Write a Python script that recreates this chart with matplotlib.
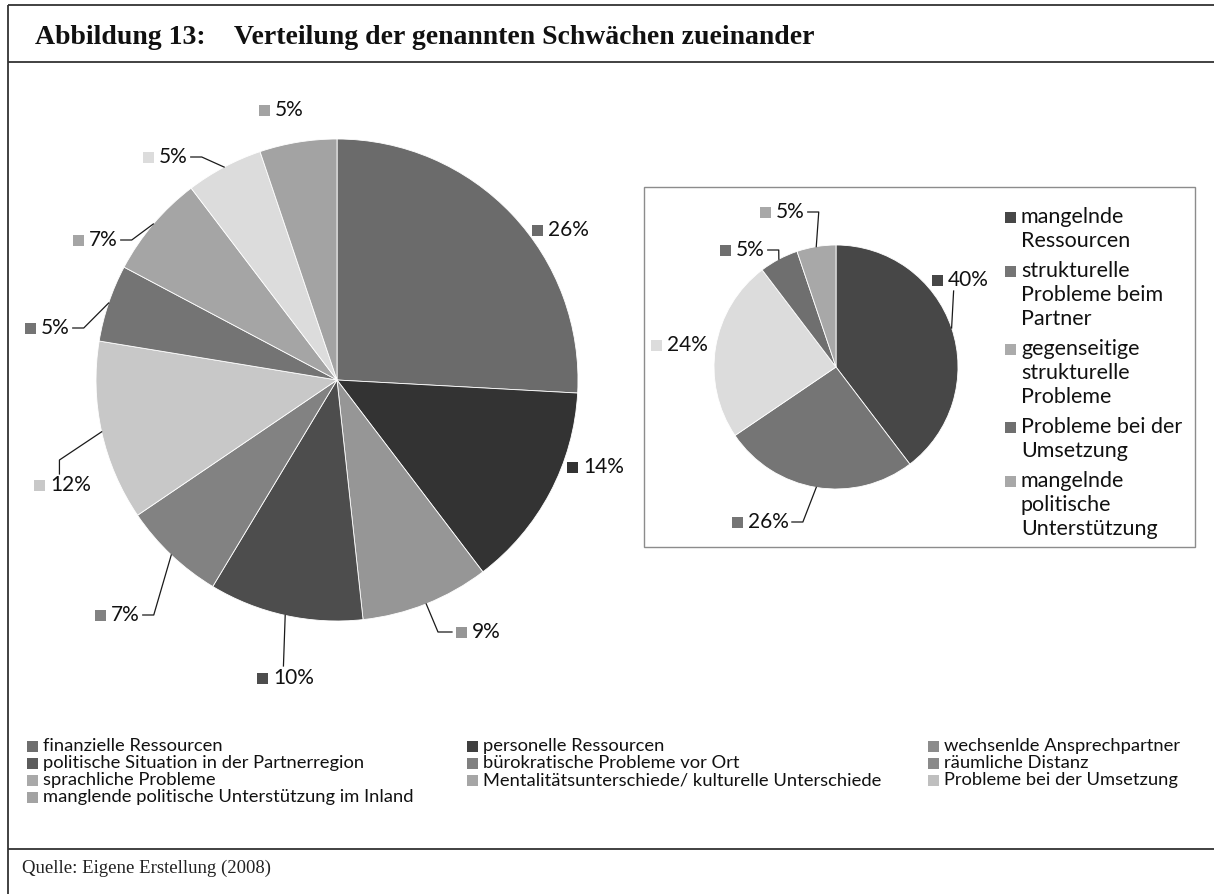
import matplotlib
matplotlib.use("Agg")
import matplotlib.pyplot as plt
from matplotlib.patches import Rectangle
import numpy as np

W, H = 1214, 894

# ---------------- data ----------------
main_categories = [
    "finanzielle Ressourcen",
    "personelle Ressourcen",
    "wechsenlde Ansprechpartner",
    "politische Situation in der Partnerregion",
    "bürokratische Probleme vor Ort",
    "räumliche Distanz",
    "sprachliche Probleme",
    "Mentalitätsunterschiede/ kulturelle Unterschiede",
    "Probleme bei der Umsetzung",
    "manglende politische Unterstützung im Inland",
]
main_counts = [15, 8, 5, 6, 4, 7, 3, 4, 3, 3]
main_colors = ["#6b6b6b", "#333333", "#969696", "#4d4d4d", "#828282",
               "#c8c8c8", "#747474", "#a5a5a5", "#dcdcdc", "#a3a3a3"]
main_legend_colors = ["#6e6e6e", "#404040", "#8c8c8c", "#5c5c5c", "#808080",
                      "#8a8a8a", "#a9a9a9", "#a6a6a6", "#bfbfbf", "#a3a3a3"]

small_categories = [
    "mangelnde Ressourcen",
    "strukturelle Probleme beim Partner",
    "gegenseitige strukturelle Probleme",
    "Probleme bei der Umsetzung",
    "mangelnde politische Unterstützung",
]
small_legend_lines = [
    ["mangelnde", "Ressourcen"],
    ["strukturelle", "Probleme beim", "Partner"],
    ["gegenseitige", "strukturelle", "Probleme"],
    ["Probleme bei der", "Umsetzung"],
    ["mangelnde", "politische", "Unterstützung"],
]
small_counts = [23, 15, 14, 3, 3]
small_colors = ["#474747", "#757575", "#dcdcdc", "#6f6f6f", "#a8a8a8"]
small_legend_colors = ["#474747", "#757575", "#ababab", "#6f6f6f", "#a8a8a8"]

title_left = "Abbildung 13:"
title_right = "Verteilung der genannten Schwächen zueinander"
source_text = "Quelle: Eigene Erstellung (2008)"

# ---------------- layout ----------------
SANS = ["Lato", "DejaVu Sans"]
SERIF = ["Liberation Serif", "DejaVu Serif"]

big_center, big_r = (337, 380), 241
small_center, small_r = (836, 367), 122

# label layout: (box left x, center y, leader type)
main_label_layout = [(532, 230, None), (567, 467, None), (456, 632, "left"),
                     (257, 678, "top"), (95, 615, "right"), (34, 485, "top_elbow"),
                     (25, 328, "right"), (73, 240, "right"), (143, 157, "right"),
                     (259, 110, None)]
small_label_layout = [(932, 280, "bottom"), (732, 522, "right"), (651, 345, None),
                      (720, 250, "right"), (760, 212, "right")]

fig = plt.figure(figsize=(W / 100, H / 100), dpi=100)
ax = fig.add_axes([0, 0, 1, 1])


def Y(y):
    return H - y


ax.pie(main_counts, colors=main_colors, startangle=90, counterclock=False,
       center=(big_center[0], Y(big_center[1])), radius=big_r,
       wedgeprops=dict(edgecolor="white", linewidth=0.6))
ax.pie(small_counts, colors=small_colors, startangle=90, counterclock=False,
       center=(small_center[0], Y(small_center[1])), radius=small_r,
       wedgeprops=dict(edgecolor="white", linewidth=0.6))
ax.set_xlim(0, W)
ax.set_ylim(0, H)
ax.set_aspect("equal")
ax.axis("off")

renderer = fig.canvas.get_renderer()


def edge_point(counts, i, center, r):
    tot = sum(counts)
    cum = sum(counts[:i]) + counts[i] / 2.0
    th = np.deg2rad(cum / tot * 360.0)
    return center[0] + r * np.sin(th), Y(center[1]) + r * np.cos(th)


def draw_labels(counts, colors, layout, center, r, fs=15):
    tot = sum(counts)
    for i, (bx, yc, kind) in enumerate(layout):
        pct = int(round(100.0 * counts[i] / tot))
        ax.add_patch(Rectangle((bx, Y(yc) - 5.5), 11, 11, facecolor=colors[i],
                               edgecolor="none"))
        t = ax.text(bx + 16, Y(yc), f"{pct}%", fontsize=fs, family=SANS,
                    ha="left", va="center", color="#111111")
        bb = t.get_window_extent(renderer)
        ex, ey = edge_point(counts, i, center, r)
        lk = dict(color="#1a1a1a", lw=0.9)
        if kind == "right":
            x0 = bb.x1 + 3
            ax.plot([x0, x0 + 11, ex], [Y(yc), Y(yc), ey], **lk)
        elif kind == "left":
            x0 = bx - 4
            ax.plot([x0, x0 - 14, ex], [Y(yc), Y(yc), ey], **lk)
        elif kind == "top":
            xc = (bx + bb.x1) / 2
            ax.plot([xc - 2, ex], [bb.y1 + 2, ey], **lk)
        elif kind == "top_elbow":
            xc = (bx + bb.x1) / 2 - 3
            ax.plot([xc, xc, ex], [bb.y1 + 1, bb.y1 + 15, ey], **lk)
        elif kind == "bottom":
            ax.plot([ex + 2, ex], [bb.y0 - 1, ey], **lk)


draw_labels(main_counts, main_colors, main_label_layout, big_center, big_r)
draw_labels(small_counts, small_colors, small_label_layout, small_center, small_r)

# small pie legend box
ax.add_patch(Rectangle((644, Y(547)), 1195 - 644, 547 - 187, facecolor="none",
                       edgecolor="#8c8c8c", lw=1.0))
y = 217
for lines, col in zip(small_legend_lines, small_legend_colors):
    ax.add_patch(Rectangle((1005, Y(y) - 5.5), 11, 11, facecolor=col, edgecolor="none"))
    for j, ln in enumerate(lines):
        ax.text(1021, Y(y + 24 * j), ln, fontsize=15.5, family=SANS, ha="left",
                va="center", color="#111111")
    y += 24 * len(lines) + 6

# bottom legend (row-major, 3 columns)
col_x = [27, 467, 928]
row_y0, row_dy = 746, 17
for k, (name, col) in enumerate(zip(main_categories, main_legend_colors)):
    r_, c_ = divmod(k, 3)
    xx, yy = col_x[c_], row_y0 + row_dy * r_
    ax.add_patch(Rectangle((xx, Y(yy) - 5.5), 11, 11, facecolor=col, edgecolor="none"))
    ax.text(xx + 16, Y(yy), name, fontsize=13.2, family=SANS, ha="left",
            va="center", color="#111111")

# frame
fk = dict(color="#333333", lw=1.3, solid_capstyle="butt")
ax.plot([8, W], [Y(5), Y(5)], **fk)
ax.plot([8, 8], [Y(5), 0], **fk)
ax.plot([8, W], [Y(62), Y(62)], **fk)
ax.plot([8, W], [Y(849), Y(849)], **fk)

# title & source
ax.text(35, Y(38), title_left, fontsize=20, family=SERIF, weight="bold",
        ha="left", va="center", color="#111111")
ax.text(234, Y(38), title_right, fontsize=20, family=SERIF, weight="bold",
        ha="left", va="center", color="#111111")
ax.text(22, Y(868), source_text, fontsize=13.5, family=SERIF, ha="left",
        va="center", color="#222222")

fig.savefig("out.png", dpi=100)
